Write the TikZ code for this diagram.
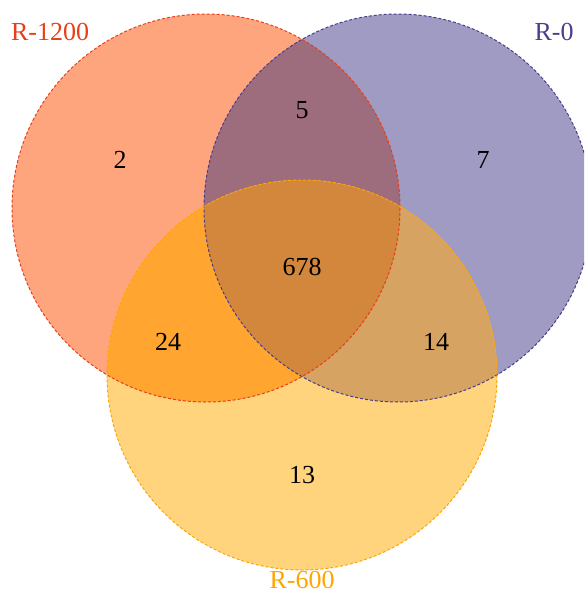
\documentclass[tikz,border=0pt]{standalone}
\usepackage{fontspec}
\setmainfont{Liberation Serif}
\definecolor{cA}{RGB}{255,165,126}
\definecolor{cB}{RGB}{160,155,195}
\definecolor{cC}{RGB}{255,212,125}
\definecolor{cAB}{RGB}{157,108,125}
\definecolor{cAC}{RGB}{255,165,48}
\definecolor{cBC}{RGB}{214,163,98}
\definecolor{cABC}{RGB}{210,135,60}
\definecolor{eA}{RGB}{232,62,25}
\definecolor{eB}{RGB}{72,62,140}
\definecolor{eC}{RGB}{255,165,0}
\tikzset{
  num/.style={font=\fontsize{26}{30}\selectfont, text=black, inner sep=0pt},
  setlabel/.style={font=\fontsize{26}{30}\selectfont, inner sep=0pt},
  edge/.style={dash pattern=on 3pt off 2pt, line width=1pt}
}
\begin{document}
\begin{tikzpicture}[x=1pt,y=-1pt]
\useasboundingbox (0,0) rectangle (584,593);
\clip (0,0) rectangle (584,593);
\def\cirA{(206,208) circle[radius=194]}
\def\cirB{(398,208) circle[radius=194]}
\def\cirC{(302,375) circle[radius=195]}
\fill[cA] \cirA;
\fill[cB] \cirB;
\fill[cC] \cirC;
\begin{scope}\clip \cirA; \fill[cAB] \cirB; \end{scope}
\begin{scope}\clip \cirA; \fill[cAC] \cirC; \end{scope}
\begin{scope}\clip \cirB; \fill[cBC] \cirC; \end{scope}
\begin{scope}\clip \cirA; \clip \cirB; \fill[cABC] \cirC; \end{scope}
\draw[edge, eA] \cirA;
\draw[edge, eB] \cirB;
\draw[edge, eC] \cirC;
\node[num] (n2) at (120,160) {2};
\node[num] (n5) at (302,110) {5};
\node[num] (n7) at (483,160) {7};
\node[num] (n678) at (302,267) {678};
\node[num] (n24) at (168,342) {24};
\node[num] (n14) at (436,342) {14};
\node[num] (n13) at (302,475) {13};
\node[setlabel, text=eA] (lA) at (50,32) {R-1200};
\node[setlabel, text=eB] (lB) at (554,32) {R-0};
\node[setlabel, text=eC, anchor=base] (lC) at (302,588) {R-600};
\end{tikzpicture}
\end{document}
